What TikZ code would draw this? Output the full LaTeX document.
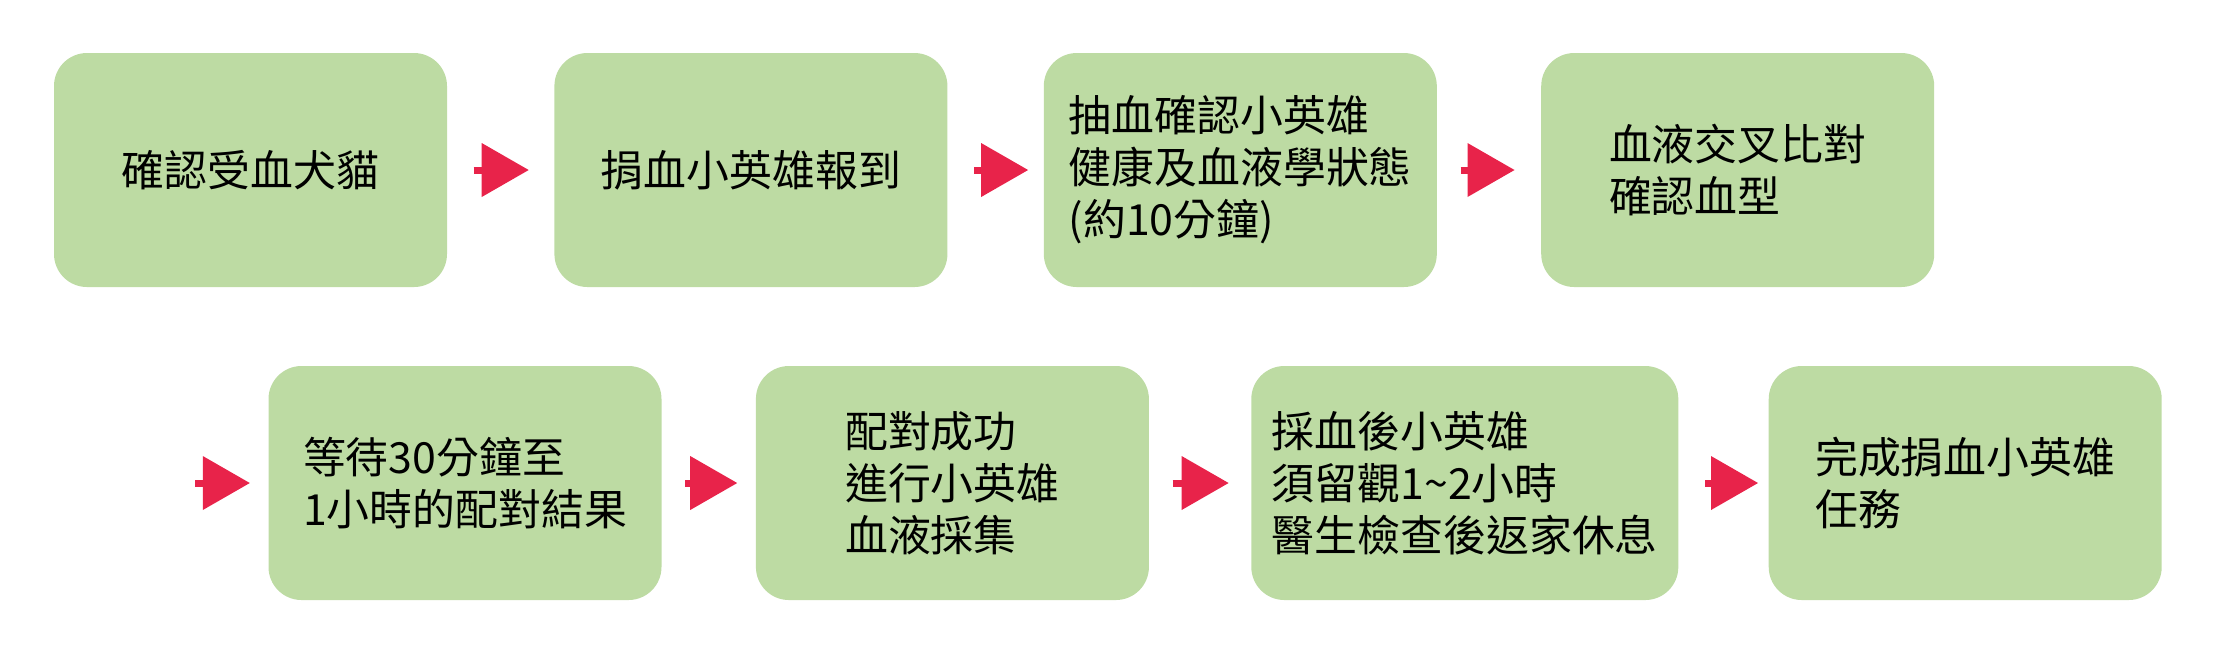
\documentclass[tikz,border=0pt]{standalone}
\usepackage{fontspec}
\setmainfont{Noto Sans CJK TC}
\usepackage{tikz}
\usetikzlibrary{arrows.meta, positioning}
\definecolor{boxgreen}{RGB}{189,219,163}
\definecolor{arrowred}{RGB}{232,35,74}
\tikzstyle{stepbox} = [rectangle, rounded corners=0.33cm, minimum width=3.93cm, minimum height=2.34cm,
                       align=left, fill=boxgreen, draw=none, inner sep=0pt,
                       font=\fontsize{12.2}{14.8}\selectfont]
\tikzstyle{flow}    = [-{Triangle[length=0.47cm, width=0.54cm, line width=0pt]}, line width=0.07cm, draw=arrowred]

\begin{document}
\begin{tikzpicture}
    \useasboundingbox (0,0) rectangle (22.34,-6.54);

    % first row
    \node (b1) [stepbox] at (2.505,-1.70) {確認受血犬貓};
    \node (b2) [stepbox, right=1.06cm of b1] {捐血小英雄報到};
    \node (b3) [stepbox, right=0.95cm of b2] {抽血確認小英雄\\健康及血液學狀態\\(約10分鐘)};
    \node (b4) [stepbox, right=1.03cm of b3] {血液交叉比對\\確認血型};

    % second row
    \coordinate (start) at (1.95,-4.83);
    \node (b5) [stepbox] at (4.65,-4.83) {等待30分鐘至\\1小時的配對結果};
    \node (b6) [stepbox, right=0.93cm of b5] {配對成功\\進行小英雄\\血液採集};
    \node (b7) [stepbox, right=1.01cm of b6, minimum width=4.27cm] {採血後小英雄\\須留觀1\textasciitilde 2小時\\醫生檢查後返家休息};
    \node (b8) [stepbox, right=0.89cm of b7] {完成捐血小英雄\\任務};

    \draw[flow, shorten <=0.26cm, shorten >=0.25cm] (b1) -- (b2);
    \draw[flow, shorten <=0.26cm, shorten >=0.15cm] (b2) -- (b3);
    \draw[flow, shorten <=0.23cm, shorten >=0.26cm] (b3) -- (b4);
    \draw[flow, shorten >=0.18cm] (start) -- (b5);
    \draw[flow, shorten <=0.23cm, shorten >=0.18cm] (b5) -- (b6);
    \draw[flow, shorten <=0.23cm, shorten >=0.22cm] (b6) -- (b7);
    \draw[flow, shorten <=0.26cm, shorten >=0.10cm] (b7) -- (b8);
\end{tikzpicture}
\end{document}
